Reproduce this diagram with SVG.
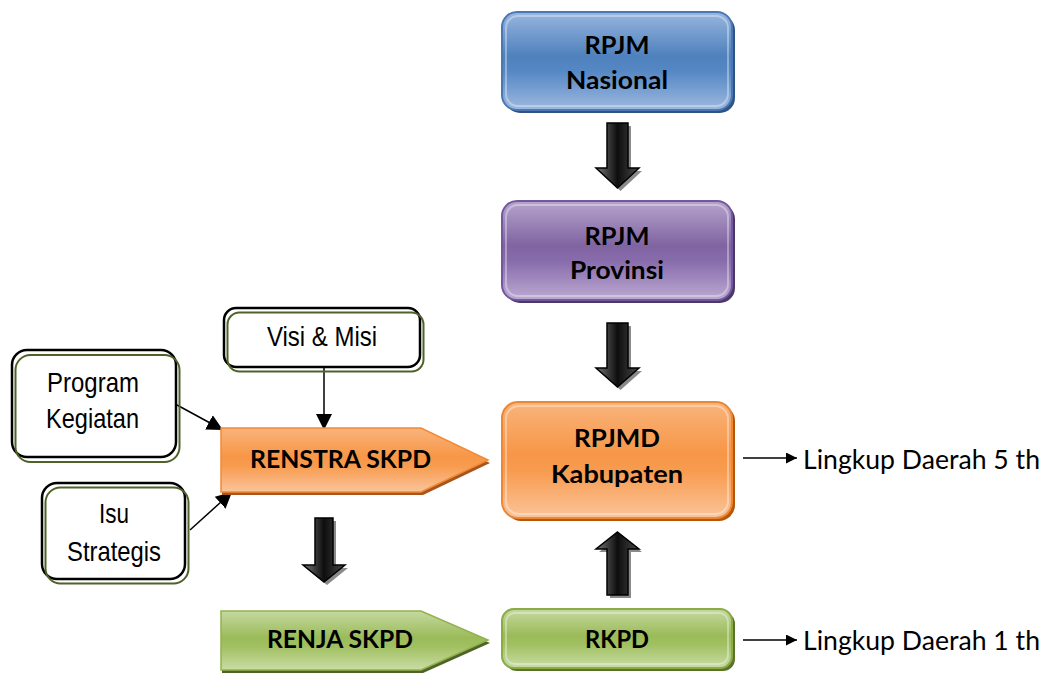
<svg xmlns="http://www.w3.org/2000/svg" width="1047" height="673" viewBox="0 0 1047 673">
<defs>
<linearGradient id="gBlue" x1="0" y1="0" x2="0" y2="1"><stop offset="0" stop-color="#98b6df"/><stop offset="0.45" stop-color="#4f81bd"/><stop offset="0.6" stop-color="#5587c4"/><stop offset="1" stop-color="#9db9e0"/></linearGradient>
<linearGradient id="gPurple" x1="0" y1="0" x2="0" y2="1"><stop offset="0" stop-color="#b6a4cc"/><stop offset="0.45" stop-color="#8064a2"/><stop offset="0.6" stop-color="#876bab"/><stop offset="1" stop-color="#bcaad2"/></linearGradient>
<linearGradient id="gOrange" x1="0" y1="0" x2="0" y2="1"><stop offset="0" stop-color="#f9b47c"/><stop offset="0.45" stop-color="#f79646"/><stop offset="0.6" stop-color="#f89c50"/><stop offset="1" stop-color="#fac49a"/></linearGradient>
<linearGradient id="gGreen" x1="0" y1="0" x2="0" y2="1"><stop offset="0" stop-color="#c5d9a0"/><stop offset="0.45" stop-color="#9bbb59"/><stop offset="0.6" stop-color="#a1c061"/><stop offset="1" stop-color="#c9dca6"/></linearGradient>
<linearGradient id="gDark" x1="0" y1="0" x2="1" y2="0"><stop offset="0" stop-color="#7a7a7a"/><stop offset="0.5" stop-color="#0d0d0d"/><stop offset="1" stop-color="#4a4a4a"/></linearGradient>
<marker id="ah" viewBox="0 0 10 10" refX="10" refY="5" markerWidth="13" markerHeight="11" markerUnits="userSpaceOnUse" orient="auto"><path d="M0,0 L10,5 L0,10 Z" fill="#000"/></marker>
<marker id="ahBig" viewBox="0 0 10 10" refX="10" refY="5" markerWidth="16" markerHeight="17" markerUnits="userSpaceOnUse" orient="auto"><path d="M0,0 L10,5 L0,10 Z" fill="#000"/></marker>
</defs>
<style>
.nt{font-family:Lato,"Liberation Sans",sans-serif;font-weight:bold;font-size:25.5px;fill:#000;text-anchor:middle}
.bt{font-family:"Liberation Sans Narrow","Liberation Sans",sans-serif;font-size:28px;fill:#000;text-anchor:middle}
.lt{font-family:Lato,"Liberation Sans",sans-serif;font-size:26.5px;fill:#000}
.hl{fill:none;stroke:#fff;stroke-opacity:0.35;stroke-width:2}
.blk{fill:#fff;stroke:#000;stroke-width:2.5}
.grn{fill:none;stroke:#4f6228;stroke-width:2}
.da{fill:url(#gDark);stroke:#000;stroke-width:1.5}
.ds{fill:#8a8a8a}
.ln{stroke:#000;stroke-width:1.5;fill:none}
</style>

<g id="connectors">
<polygon class="ds" points="610,126 631,126 631,171 642,171 620.5,191 599,171 610,171"/>
<polygon class="da" points="607,123 628,123 628,168 639,168 617.5,188 596,168 607,168"/>
<polygon class="ds" points="610,326 631,326 631,371 642,371 620.5,390 599,371 610,371"/>
<polygon class="da" points="607,323 628,323 628,368 639,368 617.5,387 596,368 607,368"/>
<polygon class="ds" points="620.5,535 642,552 631,552 631,598 610,598 610,552 599,552"/>
<polygon class="da" points="617.5,532 639,549 628,549 628,595 607,595 607,549 596,549"/>
<polygon class="ds" points="318,521 336,521 336,568 348,568 327,585 306,568 318,568"/>
<polygon class="da" points="315,518 333,518 333,565 345,565 324,582 303,565 315,565"/>
<line class="ln" x1="324" y1="367" x2="324" y2="430" marker-end="url(#ahBig)"/>
<line class="ln" x1="177" y1="405" x2="223" y2="430" marker-end="url(#ahBig)"/>
<line class="ln" x1="190" y1="530" x2="232" y2="492" marker-end="url(#ahBig)"/>
<line class="ln" x1="743" y1="458" x2="797" y2="458" marker-end="url(#ah)"/>
<line class="ln" x1="743" y1="640" x2="797" y2="640" marker-end="url(#ah)"/>
</g>

<g id="rpjm-nasional">
<rect x="505" y="15" width="230" height="98" rx="15" fill="#2e5487"/>
<rect x="502" y="12" width="230" height="98" rx="15" fill="url(#gBlue)" stroke="#4a78b3" stroke-width="2"/>
<rect class="hl" x="506" y="16" width="222" height="90" rx="12"/>
<text class="nt" x="617" y="54" textLength="65" lengthAdjust="spacingAndGlyphs">RPJM</text>
<text class="nt" x="617" y="89" textLength="102" lengthAdjust="spacingAndGlyphs">Nasional</text>
</g>

<g id="rpjm-provinsi">
<rect x="505" y="204" width="230" height="99" rx="15" fill="#4b3868"/>
<rect x="502" y="201" width="230" height="99" rx="15" fill="url(#gPurple)" stroke="#7358a0" stroke-width="2"/>
<rect class="hl" x="506" y="205" width="222" height="91" rx="12"/>
<text class="nt" x="617" y="245" textLength="65" lengthAdjust="spacingAndGlyphs">RPJM</text>
<text class="nt" x="617" y="279" textLength="94" lengthAdjust="spacingAndGlyphs">Provinsi</text>
</g>

<g id="rpjmd-kabupaten">
<rect x="505" y="405" width="230" height="116" rx="16" fill="#b65708"/>
<rect x="502" y="402" width="230" height="116" rx="16" fill="url(#gOrange)" stroke="#ec8737" stroke-width="2"/>
<rect class="hl" x="506" y="406" width="222" height="108" rx="13"/>
<text class="nt" x="617" y="447" textLength="86" lengthAdjust="spacingAndGlyphs">RPJMD</text>
<text class="nt" x="617" y="483" textLength="132" lengthAdjust="spacingAndGlyphs">Kabupaten</text>
</g>

<g id="rkpd">
<rect x="505" y="612" width="230" height="59" rx="12" fill="#5b7329"/>
<rect x="502" y="609" width="230" height="59" rx="12" fill="url(#gGreen)" stroke="#8aac45" stroke-width="2"/>
<rect class="hl" x="506" y="613" width="222" height="51" rx="9"/>
<text class="nt" x="617" y="648" textLength="64" lengthAdjust="spacingAndGlyphs">RKPD</text>
</g>

<g id="renstra-skpd">
<polygon points="222,431 423,431 490,463 423,495 222,495" fill="#a8541a"/>
<polygon points="221,428 421,428 488,460 421,492 221,492" fill="url(#gOrange)" stroke="#f08a38" stroke-width="1.5"/>
<text class="nt" x="340.5" y="468" textLength="181" lengthAdjust="spacingAndGlyphs">RENSTRA SKPD</text>
</g>

<g id="renja-skpd">
<polygon points="222,614 423,614 490,643 423,673 222,673" fill="#4f6228"/>
<polygon points="221,611 421,611 488,640 421,670 221,670" fill="url(#gGreen)" stroke="#92b24e" stroke-width="1.5"/>
<text class="nt" x="340" y="648" textLength="146" lengthAdjust="spacingAndGlyphs">RENJA SKPD</text>
</g>

<g id="visi-misi">
<rect class="blk" x="224" y="308" width="196" height="59" rx="12"/>
<rect class="grn" x="227.5" y="312.5" width="196" height="59" rx="12"/>
<text class="bt" x="322" y="346" textLength="110" lengthAdjust="spacingAndGlyphs">Visi &amp; Misi</text>
</g>

<g id="program-kegiatan">
<rect class="blk" x="12" y="350" width="164" height="107" rx="15"/>
<rect class="grn" x="15.5" y="355" width="164" height="107" rx="15"/>
<text class="bt" x="93" y="392" textLength="92" lengthAdjust="spacingAndGlyphs">Program</text>
<text class="bt" x="92.5" y="428" textLength="93" lengthAdjust="spacingAndGlyphs">Kegiatan</text>
</g>

<g id="isu-strategis">
<rect class="blk" x="42" y="483" width="143" height="96" rx="15"/>
<rect class="grn" x="45.5" y="487.5" width="143" height="96" rx="15"/>
<text class="bt" x="114" y="523" textLength="30" lengthAdjust="spacingAndGlyphs">Isu</text>
<text class="bt" x="114" y="561" textLength="94" lengthAdjust="spacingAndGlyphs">Strategis</text>
</g>

<g id="labels">
<text class="lt" x="803" y="469" textLength="237" lengthAdjust="spacingAndGlyphs">Lingkup Daerah 5 th</text>
<text class="lt" x="803" y="650" textLength="237" lengthAdjust="spacingAndGlyphs">Lingkup Daerah 1 th</text>
</g>
</svg>
